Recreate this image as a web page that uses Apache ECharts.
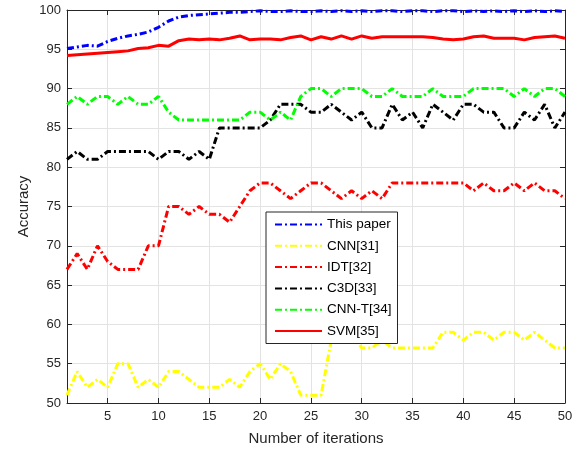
<!DOCTYPE html>
<html>
<head>
<meta charset="utf-8">
<script src="https://cdn.jsdelivr.net/npm/echarts@6/dist/echarts.min.js"></script>
<style>
  html, body { margin: 0; padding: 0; background: #fff; }
  #chart { width: 583px; height: 453px; }
</style>
</head>
<body>
<div id="chart"></div>
<script>
// iterations 1..50
var iterations = [];
for (var i = 1; i <= 50; i++) iterations.push(i);
var xTicks = [5, 10, 15, 20, 25, 30, 35, 40, 45, 50];

var thisPaper = [95.1, 95.3, 95.5, 95.4, 96.0, 96.4, 96.7, 96.9, 97.2, 97.8,
  98.6, 99.1, 99.3, 99.4, 99.5, 99.6, 99.7, 99.7, 99.8, 99.9,
  99.8, 99.8, 99.9, 99.8, 99.8, 99.9, 99.8, 99.9, 99.8, 99.9,
  99.8, 99.9, 99.9, 99.8, 99.9, 99.9, 99.8, 99.9, 99.9, 99.8,
  99.9, 99.8, 99.9, 99.8, 99.9, 99.8, 99.9, 99.8, 99.9, 99.8];
var cnn31 = [51, 54, 52, 53, 52, 55, 55, 52, 53, 52,
  54, 54, 53, 52, 52, 52, 53, 52, 54, 55,
  53, 55, 54, 51, 51, 51, 58, 58, 59, 57,
  57, 58, 57, 57, 57, 57, 57, 59, 59, 58,
  59, 59, 58, 59, 59, 58, 59, 58, 57, 57];
var idt32 = [67, 69, 67, 70, 68, 67, 67, 67, 70, 70,
  75, 75, 74, 75, 74, 74, 73, 75, 77, 78,
  78, 77, 76, 77, 78, 78, 77, 76, 77, 76,
  77, 76, 78, 78, 78, 78, 78, 78, 78, 78,
  77, 78, 77, 77, 78, 77, 78, 77, 77, 76];
var c3d33 = [81, 82, 81, 81, 82, 82, 82, 82, 82, 81,
  82, 82, 81, 82, 81, 85, 85, 85, 85, 85,
  86, 88, 88, 88, 87, 87, 88, 87, 86, 87,
  85, 85, 88, 86, 87, 85, 88, 87, 86, 88,
  88, 87, 87, 85, 85, 87, 86, 88, 85, 87];
var cnnT34 = [88, 89, 88, 89, 89, 88, 89, 88, 88, 89,
  87, 86, 86, 86, 86, 86, 86, 86, 87, 87,
  86, 87, 86, 89, 90, 90, 89, 90, 90, 90,
  89, 89, 90, 89, 89, 89, 90, 89, 89, 89,
  90, 90, 90, 90, 89, 90, 89, 90, 90, 89];
var svm35 = [94.2, 94.3, 94.4, 94.5, 94.6, 94.7, 94.8, 95.1, 95.2, 95.5,
  95.4, 96.1, 96.3, 96.2, 96.3, 96.2, 96.4, 96.7, 96.2, 96.3,
  96.3, 96.2, 96.5, 96.7, 96.2, 96.6, 96.3, 96.7, 96.3, 96.7,
  96.4, 96.6, 96.6, 96.6, 96.6, 96.6, 96.5, 96.3, 96.2, 96.3,
  96.6, 96.7, 96.4, 96.4, 96.4, 96.2, 96.5, 96.6, 96.7, 96.4];

function pairs(arr) {
  return arr.map(function (v, k) { return [iterations[k], v]; });
}

var dashDot = [7, 3, 2, 3];
var fontFam = '"Liberation Sans", Arial, sans-serif';

function mkSeries(name, data, color, type) {
  return {
    name: name,
    type: 'line',
    data: pairs(data),
    symbol: 'none',
    smooth: false,
    lineStyle: { color: color, width: 3, type: type },
    itemStyle: { color: color }
  };
}

var chart = echarts.init(document.getElementById('chart'));
var option = {
  animation: false,
  backgroundColor: '#fff',
  grid: { left: 67, right: 18, top: 10, bottom: 50 },
  legend: {
    orient: 'vertical',
    left: 266,
    top: 212,
    itemWidth: 47,
    itemHeight: 12,
    itemGap: 7.3,
    padding: [5.5, 6, 5.5, 8],
    backgroundColor: '#fff',
    borderColor: '#262626',
    borderWidth: 1,
    borderRadius: 0,
    itemStyle: { opacity: 0 },
    textStyle: { fontFamily: fontFam, fontSize: 13.5, color: '#000' },
    data: ['This paper', 'CNN[31]', 'IDT[32]', 'C3D[33]', 'CNN-T[34]', 'SVM[35]']
  },
  xAxis: [{
    type: 'value',
    min: 1,
    max: 50,
    name: 'Number of iterations',
    nameLocation: 'middle',
    nameGap: 28,
    nameMoveOverlap: false,
    nameTextStyle: { fontFamily: fontFam, fontSize: 15, color: '#262626' },
    axisLine: { show: true, lineStyle: { color: '#262626', width: 1 } },
    axisTick: { show: true, inside: true, length: 5, customValues: xTicks, lineStyle: { color: '#262626' } },
    axisLabel: { show: true, customValues: xTicks, margin: 7, fontFamily: fontFam, fontSize: 13, color: '#262626' },
    splitLine: { show: true, lineStyle: { color: '#e3e3e3', width: 1 } }
  }, {
    type: 'value',
    position: 'top',
    min: 1,
    max: 50,
    axisLine: { show: true, lineStyle: { color: '#262626', width: 1 } },
    axisTick: { show: true, inside: true, length: 5, customValues: xTicks, lineStyle: { color: '#262626' } },
    axisLabel: { show: false },
    splitLine: { show: false }
  }],
  yAxis: [{
    type: 'value',
    min: 50,
    max: 100,
    interval: 5,
    name: 'Accuracy',
    nameLocation: 'middle',
    nameGap: 36,
    nameMoveOverlap: false,
    nameRotate: 90,
    nameTextStyle: { fontFamily: fontFam, fontSize: 15, color: '#262626' },
    axisLine: { show: true, lineStyle: { color: '#262626', width: 1 } },
    axisTick: { show: true, inside: true, length: 5, lineStyle: { color: '#262626' } },
    axisLabel: { margin: 6, fontFamily: fontFam, fontSize: 13, color: '#262626' },
    splitLine: { show: true, lineStyle: { color: '#e3e3e3', width: 1 } }
  }, {
    type: 'value',
    position: 'right',
    min: 50,
    max: 100,
    interval: 5,
    axisLine: { show: true, lineStyle: { color: '#262626', width: 1 } },
    axisTick: { show: true, inside: true, length: 5, lineStyle: { color: '#262626' } },
    axisLabel: { show: false },
    splitLine: { show: false }
  }],
  series: [
    mkSeries('This paper', thisPaper, '#0000ff', dashDot),
    mkSeries('CNN[31]', cnn31, '#ffff00', dashDot),
    mkSeries('IDT[32]', idt32, '#ff0000', dashDot),
    mkSeries('C3D[33]', c3d33, '#000000', dashDot),
    mkSeries('CNN-T[34]', cnnT34, '#00ff00', dashDot),
    mkSeries('SVM[35]', svm35, '#ff0000', 'solid')
  ]
};
chart.setOption(option);
</script>
</body>
</html>
